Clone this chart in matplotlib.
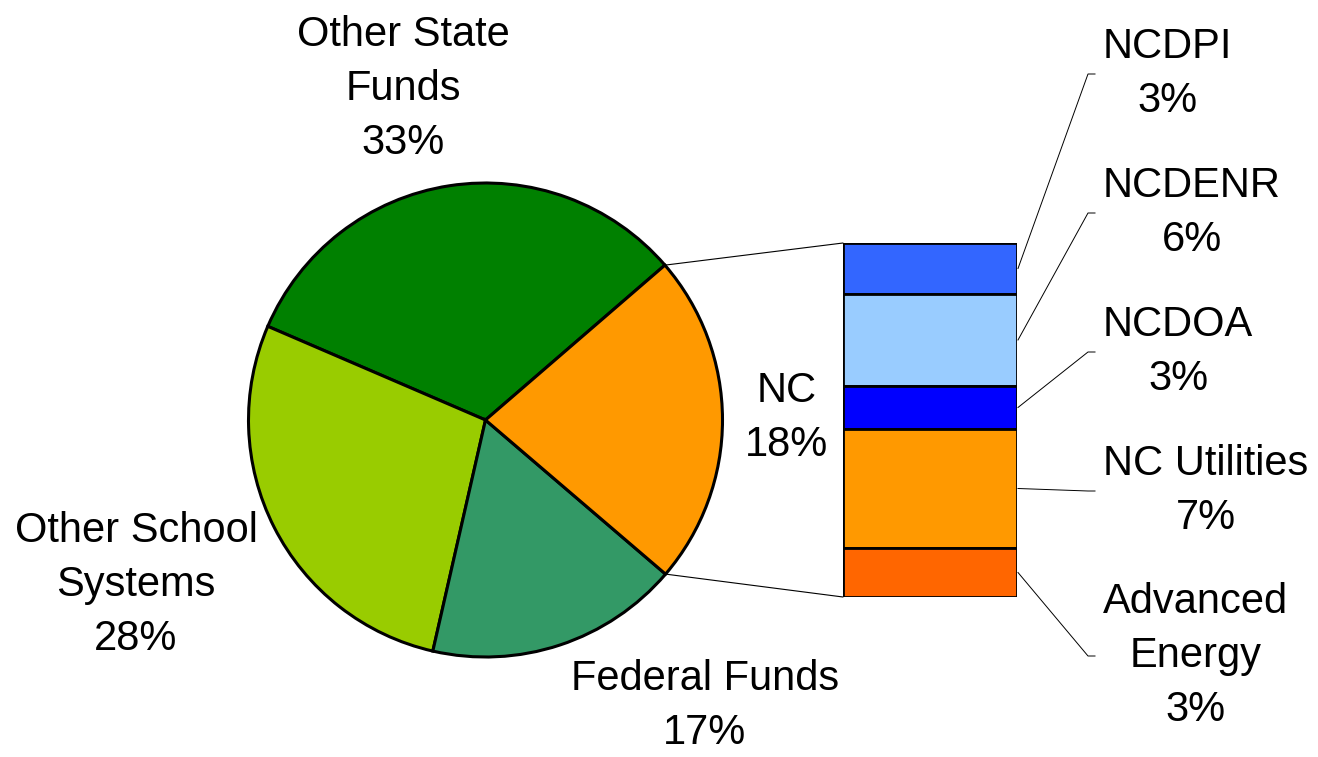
import matplotlib
matplotlib.use("Agg")
import matplotlib.pyplot as plt
from matplotlib.patches import ConnectionPatch
import numpy as np

plt.rcParams['font.family'] = ['Liberation Sans', 'DejaVu Sans']

# Main pie data (shares) and printed labels
pie_labels = ["Other State\nFunds\n33%", "Other School\nSystems\n28%", "Federal Funds\n17%", "NC\n18%"]
pie_values = [32.2, 27.9, 17.3, 22.6]
pie_colors = ["#008000", "#99CC00", "#339966", "#FF9900"]

# NC breakdown (top to bottom)
bar_labels = ["NCDPI\n3%", "NCDENR\n6%", "NCDOA\n3%", "NC Utilities\n7%", "Advanced\nEnergy\n3%"]
bar_values = [3.26, 5.87, 2.75, 7.6, 3.13]
bar_colors = ["#3366FF", "#99CCFF", "#0000FF", "#FF9900", "#FF6600"]

W, H = 1318, 757
fig = plt.figure(figsize=(W / 100, H / 100), dpi=100)
ax = fig.add_axes([0, 0, 1, 1])

cx, cy, R = 485.5, H - 420, 237
wedges, _ = ax.pie(pie_values, colors=pie_colors, startangle=40.8, counterclock=True,
                   center=(cx, cy), radius=R,
                   wedgeprops=dict(edgecolor="black", linewidth=2.2))
ax.set_xlim(0, W)
ax.set_ylim(0, H)
ax.set_aspect('equal')
ax.axis('off')

fs = 30
lsp = 1.45
pie_label_pos = [(403, 89), (136, 585), (705, 706), (787, 418)]
for lab, (x, y) in zip(pie_labels, pie_label_pos):
    ax.text(x, H - y, lab, ha='center', va='center', fontsize=fs, linespacing=lsp)

# Stacked bar of the NC breakdown
bx0, bx1, by0, by1 = 843, 1017, 243, 597
bax = fig.add_axes([bx0 / W, (H - by1) / H, (bx1 - bx0) / W, (by1 - by0) / H])
total = sum(bar_values)
top = total
mids = []
for v, c in zip(bar_values, bar_colors):
    bax.bar(0, v, bottom=top - v, width=1.0, color=c, edgecolor="black", linewidth=2.0)
    mids.append(top - v / 2)
    top -= v
bax.set_xlim(-0.5, 0.5)
bax.set_ylim(0, total)
bax.axis('off')

# connector lines from NC wedge to bar
nc = wedges[3]
for ang, yb in [(nc.theta2, total), (nc.theta1, 0)]:
    px = cx + R * np.cos(np.radians(ang))
    py = cy + R * np.sin(np.radians(ang))
    con = ConnectionPatch(xyA=(px, py), coordsA=ax.transData,
                          xyB=(-0.5, yb), coordsB=bax.transData,
                          color="black", linewidth=0.8)
    fig.add_artist(con)

# leader lines and labels for bar segments
label_y = [74, 213, 352, 491, 656]
inv = ax.transData.inverted()
for lab, m, ly in zip(bar_labels, mids, label_y):
    sx, sy = inv.transform(bax.transData.transform((0.5, m)))
    sx += 1
    ax.plot([sx, 1088, 1095], [sy, H - ly, H - ly], color="black", linewidth=0.7)
    ax.text(1103, H - ly, lab, ha='left', va='center', ma='center', fontsize=fs, linespacing=lsp)

fig.savefig("out.png", dpi=100)
